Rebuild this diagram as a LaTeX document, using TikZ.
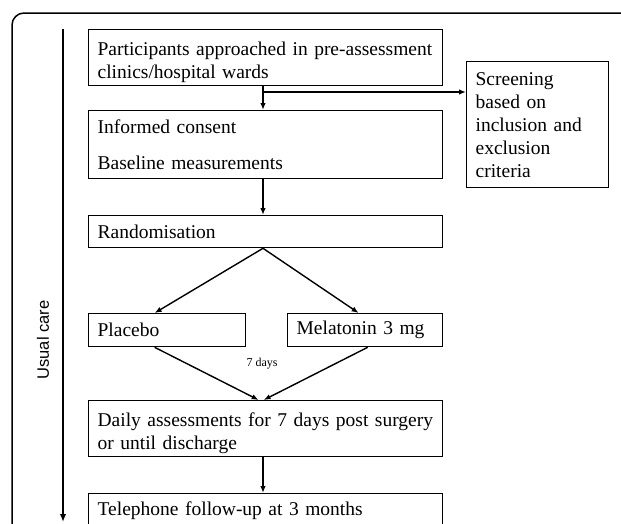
\documentclass[tikz,border=0pt]{standalone}
\usepackage{fontspec}
\setmainfont{Liberation Serif}
\newfontfamily\sansf{Liberation Sans}
\usetikzlibrary{arrows.meta}
\newcommand{\lowstrut}{\rule{0pt}{23pt}}
\begin{document}
\begin{tikzpicture}[x=1pt,y=-1pt,
  box/.style={draw, line width=1.3pt, anchor=north west, inner xsep=9pt, inner ysep=0pt, align=left, font=\fontsize{19.5}{23}\selectfont},
  conn/.style={line width=1.4pt, -{Latex[length=7pt,width=5.5pt]}},
  frame/.style={line width=1.5pt, rounded corners=12pt},
  axis/.style={line width=2.4pt, -{Latex[length=8pt,width=6.5pt]}}]
\useasboundingbox (0,0) rectangle (621,523);
\clip (0,0) rectangle (621,523);
\draw[frame] (12,13) rectangle (680,580);
\coordinate (mx) at (263,0);
\node[box, text width=336pt, minimum height=56pt] (b1) at (88,29) {\lowstrut Participants approached in pre-assessment\\clinics/hospital wards};
\node[box, text width=336pt, minimum height=68pt] (b2) at (88,110) {Informed consent\\[13pt]Baseline measurements};
\node[box, text width=124pt, minimum height=126pt] (scr) at (466,61) {Screening\\based on\\inclusion and\\exclusion\\criteria};
\node[box, text width=336pt, minimum height=32pt] (rand) at (88,215) {Randomisation};
\node[box, text width=139pt, minimum height=33pt] (plac) at (88,313) {Placebo};
\node[box, text width=137pt, minimum height=33pt] (mel) at (287,313) {Melatonin 3 mg};
\node[box, text width=336pt, minimum height=56pt] (daily) at (88,400) {\lowstrut Daily assessments for 7 days post surgery\\or until discharge};
\node[box, text width=336pt, minimum height=34pt] (tel) at (88,493) {Telephone follow-up at 3 months};
\node[font=\fontsize{12}{14}\selectfont] (sd) at (262,364) {7 days};
\node[rotate=90, font=\sansf\fontsize{16.5}{19}\selectfont] (uc) at (43,340) {Usual care};
\coordinate (uc1) at (63,29);
\coordinate (uc2) at (63,522);
\draw[axis] (uc1) -- (uc2);
\coordinate (br) at (263,92);
\draw[conn] (b1.south -| mx) -- (b2.north -| mx);
\draw[conn] (br) -- (br -| scr.west);
\draw[conn] (b2.south -| mx) -- (rand.north -| mx);
\draw[conn] (rand.south -| mx) -- ([xshift=-12.5pt]plac.north);
\draw[conn] (rand.south -| mx) -- ([xshift=-6.5pt]mel.north);
\draw[conn] ([xshift=-12.5pt]plac.south) -- ([xshift=-7pt]daily.north);
\draw[conn] ([xshift=2.5pt]mel.south) -- ([xshift=-2pt]daily.north);
\draw[conn] (daily.south -| mx) -- (tel.north -| mx);
\end{tikzpicture}
\end{document}
